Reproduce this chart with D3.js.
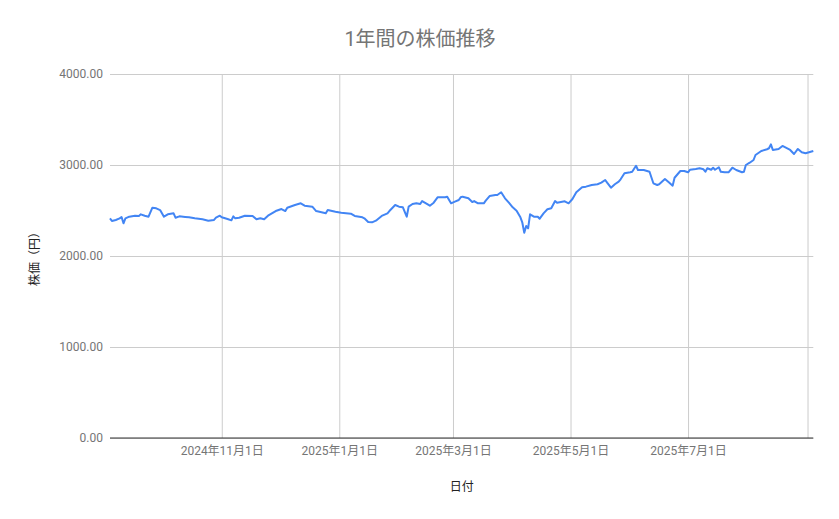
<!DOCTYPE html>
<html>
<head>
<meta charset="utf-8">
<script src="https://cdn.jsdelivr.net/npm/d3@7"></script>
<style>
  body { margin: 0; background: #fff; }
  text { font-family: Roboto, "Noto Sans CJK JP", sans-serif; }
</style>
</head>
<body>
<svg id="chart" width="839" height="519"></svg>
<script>
const title = "1年間の株価推移";
const yTitle = "株価（円）";
const xTitle = "日付";
const yTicks = [0, 1000, 2000, 3000, 4000];
const xTickDates = ["2024-11-01", "2025-01-01", "2025-03-01", "2025-05-01", "2025-07-01", "2025-09-01"];
const xTickLabels = ["2024年11月1日", "2025年1月1日", "2025年3月1日", "2025年5月1日", "2025年7月1日", ""];

const dates = [
"2024-09-04","2024-09-05","2024-09-07","2024-09-09","2024-09-10","2024-09-11","2024-09-12","2024-09-14","2024-09-17","2024-09-19",
"2024-09-20","2024-09-22","2024-09-24","2024-09-26","2024-09-28","2024-09-30","2024-10-02","2024-10-04","2024-10-07","2024-10-08",
"2024-10-10","2024-10-13","2024-10-15","2024-10-18","2024-10-22","2024-10-25","2024-10-28","2024-10-29","2024-10-31","2024-11-01",
"2024-11-04","2024-11-06","2024-11-07","2024-11-08","2024-11-10","2024-11-13","2024-11-17","2024-11-19","2024-11-21","2024-11-23",
"2024-11-25","2024-11-29","2024-12-02","2024-12-04","2024-12-05","2024-12-09","2024-12-12","2024-12-14","2024-12-18","2024-12-20",
"2024-12-25","2024-12-26","2024-12-30","2025-01-02","2025-01-07","2025-01-09","2025-01-13","2025-01-14","2025-01-16","2025-01-18",
"2025-01-20","2025-01-23","2025-01-26","2025-01-27","2025-01-30","2025-02-01","2025-02-03","2025-02-05","2025-02-06","2025-02-08",
"2025-02-10","2025-02-12","2025-02-13","2025-02-15","2025-02-17","2025-02-19","2025-02-21","2025-02-25","2025-02-26","2025-02-28",
"2025-03-02","2025-03-04","2025-03-05","2025-03-06","2025-03-09","2025-03-11","2025-03-12","2025-03-14","2025-03-17","2025-03-18",
"2025-03-20","2025-03-23","2025-03-24","2025-03-26","2025-03-28","2025-03-30","2025-04-01","2025-04-03","2025-04-05","2025-04-06",
"2025-04-07","2025-04-08","2025-04-09","2025-04-10","2025-04-12","2025-04-14","2025-04-15","2025-04-17","2025-04-19","2025-04-21",
"2025-04-23","2025-04-24","2025-04-28","2025-04-30","2025-05-02","2025-05-04","2025-05-07","2025-05-09","2025-05-12","2025-05-15",
"2025-05-17","2025-05-19","2025-05-20","2025-05-22","2025-05-24","2025-05-26","2025-05-27","2025-05-29","2025-06-01","2025-06-02",
"2025-06-04","2025-06-05","2025-06-08","2025-06-11","2025-06-13","2025-06-15","2025-06-16","2025-06-19","2025-06-21","2025-06-23",
"2025-06-24","2025-06-27","2025-06-29","2025-07-01","2025-07-02","2025-07-05","2025-07-07","2025-07-09","2025-07-10","2025-07-11",
"2025-07-13","2025-07-14","2025-07-15","2025-07-17","2025-07-18","2025-07-20","2025-07-22","2025-07-24","2025-07-26","2025-07-29",
"2025-07-30","2025-07-31","2025-08-02","2025-08-04","2025-08-05","2025-08-08","2025-08-11","2025-08-12","2025-08-13","2025-08-14",
"2025-08-17","2025-08-19","2025-08-20","2025-08-23","2025-08-25","2025-08-27","2025-08-29","2025-08-31","2025-09-04"
];
const prices = [
2414,2385,2396,2414,2429,2359,2414,2432,2443,2440,
2458,2443,2432,2531,2524,2505,2432,2458,2469,2421,
2436,2429,2425,2414,2403,2388,2396,2421,2443,2425,
2407,2392,2436,2414,2421,2443,2440,2403,2414,2403,
2443,2494,2516,2494,2531,2560,2579,2553,2542,2494,
2469,2505,2487,2476,2465,2440,2425,2414,2374,2370,
2388,2440,2469,2494,2560,2542,2535,2432,2542,2571,
2579,2571,2604,2579,2553,2586,2645,2645,2652,2579,
2597,2615,2645,2652,2634,2593,2604,2579,2579,2608,
2659,2670,2670,2700,2634,2586,2535,2498,2425,2366,
2256,2330,2304,2458,2432,2432,2410,2469,2513,2524,
2604,2586,2601,2579,2626,2700,2755,2762,2780,2788,
2806,2835,2806,2751,2788,2817,2843,2909,2920,2926,
2992,2945,2945,2926,2799,2780,2788,2846,2810,2773,
2860,2934,2934,2920,2948,2956,2964,2953,2926,2964,
2948,2970,2948,2975,2926,2920,2920,2970,2945,2920,
2926,3000,3025,3055,3110,3154,3173,3184,3227,3165,
3176,3209,3198,3165,3121,3176,3140,3129,3154
];

const parse = d3.timeParse("%Y-%m-%d");
const data = dates.map((d, i) => ({ date: parse(d), value: prices[i] }));

const svg = d3.select("#chart");
const W = 839, H = 519;
const m = { left: 110, right: 839 - 813.3, top: 74, bottom: 519 - 438 };

const x = d3.scaleTime()
  .domain(d3.extent(data, d => d.date))
  .range([m.left, W - m.right]);
const y = d3.scaleLinear()
  .domain([0, 4000])
  .range([H - m.bottom, m.top]);

// horizontal gridlines
svg.append("g")
  .attr("transform", `translate(${m.left},0)`)
  .call(d3.axisLeft(y).tickValues(yTicks).tickSize(-(W - m.right - m.left)).tickFormat(d => d3.format(".2f")(d)).tickPadding(7))
  .call(g => g.select(".domain").remove())
  .call(g => g.selectAll(".tick line").attr("stroke", "#cccccc").attr("stroke-width", 1))
  .call(g => g.selectAll(".tick text").attr("fill", "#757575").style("font-size", "12px"));

// vertical gridlines
svg.append("g")
  .attr("transform", `translate(0,${H - m.bottom})`)
  .call(d3.axisBottom(x).tickValues(xTickDates.map(parse)).tickSize(-(H - m.bottom - m.top)).tickFormat((d, i) => xTickLabels[i]).tickPadding(8))
  .call(g => g.select(".domain").remove())
  .call(g => g.selectAll(".tick line").attr("stroke", "#cccccc").attr("stroke-width", 1))
  .call(g => g.selectAll(".tick text").attr("fill", "#757575").style("font-size", "12px"));

// baseline
svg.append("line")
  .attr("x1", m.left).attr("x2", W - m.right)
  .attr("y1", y(0)).attr("y2", y(0))
  .attr("stroke", "#333333").attr("stroke-width", 1);

// line
const line = d3.line().x(d => x(d.date)).y(d => y(d.value));
svg.append("path")
  .datum(data)
  .attr("fill", "none")
  .attr("stroke", "#4285F4")
  .attr("stroke-width", 2)
  .attr("stroke-linejoin", "round")
  .attr("d", line);

// titles
svg.append("text")
  .attr("x", 420).attr("y", 46)
  .attr("text-anchor", "middle")
  .attr("fill", "#757575")
  .style("font-size", "20px")
  .text(title);

svg.append("text")
  .attr("x", (m.left + W - m.right) / 2).attr("y", 491)
  .attr("text-anchor", "middle")
  .attr("fill", "#222222")
  .style("font-size", "12px")
  .text(xTitle);

svg.append("text")
  .attr("transform", `translate(39,${(m.top + H - m.bottom) / 2}) rotate(-90)`)
  .attr("text-anchor", "middle")
  .attr("fill", "#222222")
  .style("font-size", "12px")
  .text(yTitle);
</script>
</body>
</html>
